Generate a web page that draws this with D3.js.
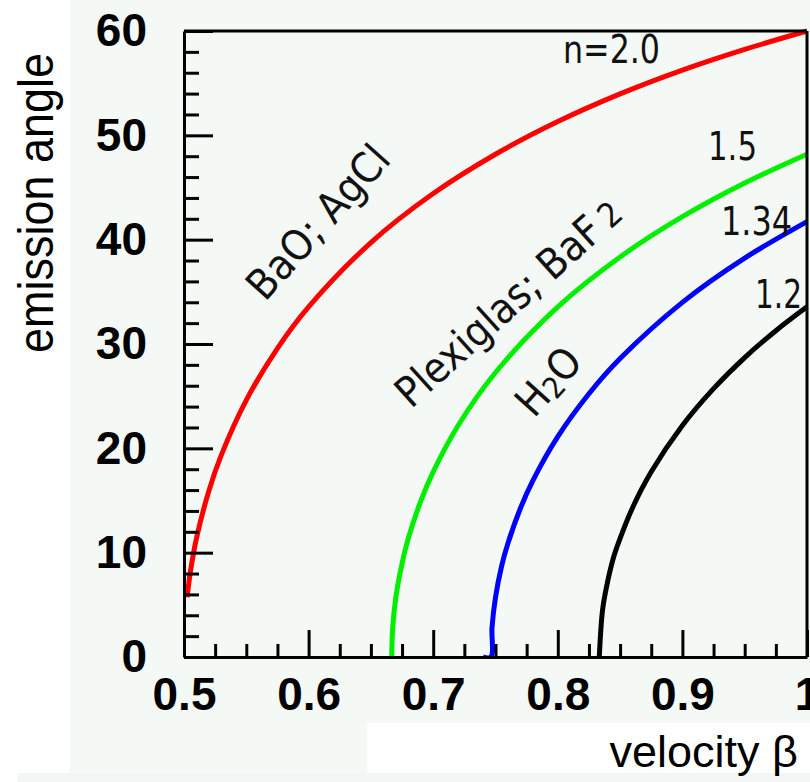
<!DOCTYPE html>
<html>
<head>
<meta charset="utf-8">
<script src="https://cdn.jsdelivr.net/npm/d3@7"></script>
<style>
  html, body { margin: 0; padding: 0; background: #fff; }
  svg { display: block; }
  .tick text { font-family: "Liberation Sans", Arial, sans-serif; font-weight: bold; font-size: 46px; fill: #000; }
  .note { font-family: "DejaVu Sans Condensed", "DejaVu Sans", sans-serif; font-size: 42px; fill: #111; }
  .num { font-size: 39px; }
  .axis-title { font-family: "Liberation Sans", Arial, sans-serif; fill: #000; }
</style>
</head>
<body>
<svg id="chart" width="810" height="782"></svg>
<script>
// angle (degrees) vs velocity beta
const curveNames = ["n=2.0", "1.5", "1.34", "1.2"];
const curveColors = ["#ff0000", "#00ee00", "#0000ff", "#000000"];

const curveN20 = [
  [0.5025, 5.72], [0.505, 8.07], [0.51, 11.37], [0.52, 15.94], [0.53, 19.37], [0.55, 24.62],
  [0.575, 29.59], [0.6, 33.56], [0.65, 39.72], [0.7, 44.42], [0.75, 48.19],
  [0.8, 51.32], [0.85, 53.97], [0.9, 56.25], [0.95, 58.24], [1.0, 60.0]
];
const curveN15 = [
  [0.6667, 0], [0.6675, 2.81], [0.67, 5.72], [0.675, 8.97], [0.68, 11.37], [0.69, 14.94], [0.7, 17.75],
  [0.72, 22.19], [0.75, 27.27], [0.8, 33.56], [0.85, 38.34], [0.9, 42.20],
  [0.95, 45.43], [1.0, 48.19]
];
const curveN134 = [
  [0.740, 0], [0.7463, 0], [0.7472, 2.81], [0.75, 5.72], [0.755, 8.76], [0.76, 10.91], [0.77, 14.26],
  [0.78, 16.91], [0.8, 21.12], [0.825, 25.23], [0.85, 28.60], [0.9, 33.99],
  [0.95, 38.23], [1.0, 41.73]
];
const curveN12 = [
  [0.8333, 0], [0.836, 4.58], [0.84, 7.23], [0.845, 9.65], [0.85, 11.37], [0.86, 14.31],
  [0.875, 17.75], [0.9, 22.19], [0.925, 25.72], [0.95, 28.70], [0.975, 31.27],
  [1.0, 33.56]
];
const curves = [curveN20, curveN15, curveN134, curveN12];

const xTicks = [0.5, 0.6, 0.7, 0.8, 0.9, 1.0];
const xTickLabels = ["0.5", "0.6", "0.7", "0.8", "0.9", "1"];
const yTicks = [0, 10, 20, 30, 40, 50, 60];

const svg = d3.select("#chart");
const W = 810, H = 782;
const plot = {left: 184, top: 31, right: 807, bottom: 657};

// background panels
svg.append("rect").attr("x", 0).attr("y", 0).attr("width", W).attr("height", H).attr("fill", "#fff");
svg.append("rect").attr("x", 70).attr("y", 0).attr("width", W - 70).attr("height", 773).attr("fill", "#f5f9f6");
svg.append("rect").attr("x", 17).attr("y", 773).attr("width", W - 17).attr("height", H - 773).attr("fill", "#f4f6f6");
svg.append("rect").attr("x", 367).attr("y", 723).attr("width", W - 367).attr("height", 50).attr("fill", "#fff");

const x = d3.scaleLinear().domain([0.5, 1.0]).range([plot.left, plot.right]);
const y = d3.scaleLinear().domain([0, 60]).range([plot.bottom, plot.top]);

svg.append("clipPath").attr("id", "clip")
  .append("rect")
  .attr("x", plot.left).attr("y", plot.top - 3)
  .attr("width", plot.right - plot.left + 3).attr("height", plot.bottom - plot.top + 3);

// curves
const line = d3.line()
  .x(d => x(d[0]))
  .y(d => y(d[1]))
  .curve(d3.curveCatmullRom.alpha(0.5));

svg.append("g")
  .attr("clip-path", "url(#clip)")
  .selectAll("path")
  .data(curves)
  .join("path")
  .attr("d", line)
  .attr("fill", "none")
  .attr("stroke", (d, i) => curveColors[i])
  .attr("stroke-width", 5)
  .attr("stroke-linejoin", "round");

// frame: top and right
svg.append("line").attr("x1", plot.left).attr("x2", plot.right).attr("y1", plot.top).attr("y2", plot.top)
  .attr("stroke", "#000").attr("stroke-width", 3);
svg.append("line").attr("x1", plot.right).attr("x2", plot.right).attr("y1", plot.top).attr("y2", plot.bottom)
  .attr("stroke", "#000").attr("stroke-width", 3);

// minor ticks
const xMinor = d3.range(0, 21).map(i => 0.5 + i * 0.025).filter((v, i) => i % 4 !== 0);
const yMinor = d3.range(0, 31).map(i => i * 2).filter(v => v % 10 !== 0);

svg.append("g")
  .attr("transform", `translate(0,${plot.bottom})`)
  .call(d3.axisBottom(x).tickValues(xMinor).tickSize(-13).tickFormat(""))
  .call(g => g.select(".domain").remove())
  .selectAll("line").attr("stroke", "#000").attr("stroke-width", 3);

svg.append("g")
  .attr("transform", `translate(${plot.left},0)`)
  .call(d3.axisLeft(y).tickValues(yMinor).tickSize(-15).tickFormat(""))
  .call(g => g.select(".domain").remove())
  .selectAll("line").attr("stroke", "#000").attr("stroke-width", 3);

// major axes
const xAxis = svg.append("g")
  .attr("transform", `translate(0,${plot.bottom})`)
  .call(d3.axisBottom(x).tickValues(xTicks).tickSize(-27).tickSizeOuter(0).tickPadding(20)
    .tickFormat((d, i) => xTickLabels[i]));
const yAxis = svg.append("g")
  .attr("transform", `translate(${plot.left},0)`)
  .call(d3.axisLeft(y).tickValues(yTicks).tickSize(-29).tickSizeOuter(0).tickPadding(37)
    .tickFormat(d3.format("d")));

[xAxis, yAxis].forEach(g => {
  g.select(".domain").attr("stroke", "#000").attr("stroke-width", 3);
  g.selectAll(".tick line").attr("stroke", "#000").attr("stroke-width", 3);
  g.attr("font-family", null).attr("font-size", null);
});

// axis titles
svg.append("text")
  .attr("class", "axis-title")
  .attr("transform", "translate(53,203) rotate(-90)")
  .attr("text-anchor", "middle")
  .attr("font-size", 50)
  .attr("textLength", 300)
  .attr("lengthAdjust", "spacingAndGlyphs")
  .text("emission angle");

svg.append("text")
  .attr("class", "axis-title")
  .attr("x", 798).attr("y", 767)
  .attr("text-anchor", "end")
  .attr("font-size", 45)
  .text("velocity β");

// curve labels
const numberLabels = [
  {text: curveNames[0], x: 660, y: 63, w: 97},
  {text: curveNames[1], x: 757, y: 160, w: 49},
  {text: curveNames[2], x: 792, y: 235, w: 71},
  {text: curveNames[3], x: 802, y: 308, w: 47}
];
svg.selectAll("text.num")
  .data(numberLabels)
  .join("text")
  .attr("class", "note num")
  .attr("x", d => d.x).attr("y", d => d.y)
  .attr("text-anchor", "end")
  .attr("textLength", d => d.w)
  .attr("lengthAdjust", "spacingAndGlyphs")
  .text(d => d.text);

svg.append("text").attr("class", "note")
  .attr("transform", "translate(318,222) rotate(-48)")
  .attr("text-anchor", "middle").attr("dominant-baseline", "central")
  .text("BaO; AgCl");

const t2 = svg.append("text").attr("class", "note")
  .attr("transform", "translate(508,302) rotate(-42)")
  .attr("text-anchor", "middle").attr("dominant-baseline", "central");
t2.append("tspan").text("Plexiglas; BaF");
t2.append("tspan").attr("dx", 7).attr("dy", 3).attr("font-size", 34).text("2");

const t3 = svg.append("text").attr("class", "note")
  .attr("transform", "translate(548,381) rotate(-48)")
  .attr("text-anchor", "middle").attr("dominant-baseline", "central");
t3.append("tspan").text("H");
t3.append("tspan").attr("dy", 8).attr("font-size", 30).text("2");
t3.append("tspan").attr("dy", -8).text("O");
</script>
</body>
</html>
